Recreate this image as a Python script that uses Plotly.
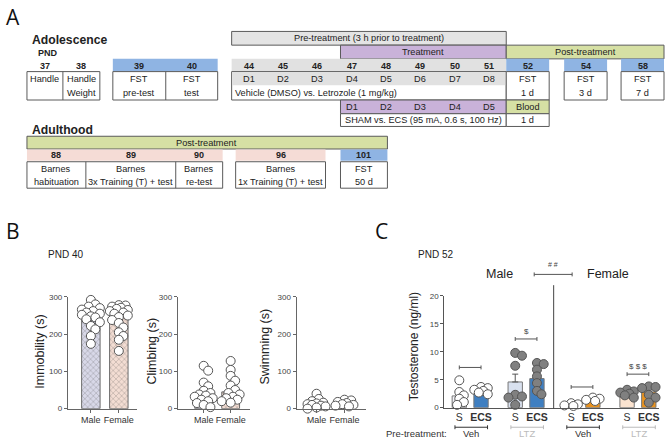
import numpy as np
import plotly.graph_objects as go

W, H = 666, 444
FONT = "Arial, 'Liberation Sans', sans-serif"
BIGF = "'Open Sans', 'Noto Sans', sans-serif"

def X(p): return p / W
def Y(p): return 1 - p / H

# ------------------------------------------------------------------ data
# Panel A (timeline)
pre_days = ["37", "38"]
pre_labels = [("Handle", ""), ("Handle", "Weight")]
fst_days = ["39", "40"]
fst_labels = [("FST", "pre-test"), ("FST", "test")]
drug_days = ["44", "45", "46", "47", "48", "49", "50", "51"]
drug_day_labels = ["D1", "D2", "D3", "D4", "D5", "D6", "D7", "D8"]
drug_text = "Vehicle (DMSO) vs. Letrozole (1 mg/kg)"
ecs_day_labels = ["D1", "D2", "D3", "D4", "D5"]
ecs_text = "SHAM vs. ECS (95 mA, 0.6 s, 100 Hz)"
post_days = ["52", "54", "58"]
post_labels = [("FST", "1 d"), ("FST", "3 d"), ("FST", "7 d")]
blood_label = ("Blood", "1 d")
adult_days = ["88", "89", "90"]
adult_labels = [("Barnes", "habituation"), ("Barnes", "3x Training (T) + test"), ("Barnes", "re-test")]
adult_day96 = "96"
adult_label96 = ("Barnes", "1x Training (T) + test")
adult_day101 = "101"
adult_label101 = ("FST", "50 d")

# Panel B (PND 40)
sexes = ["Male", "Female"]
immob_mean = [251, 244]
climb_mean = [36, 45]
swim_mean = [12, 11]
immob_male = [292, 280, 274, 270, 266, 262, 258, 255, 252, 248, 245, 240, 232, 222, 213, 195, 174]
immob_female = [278, 277, 274, 271, 268, 265, 262, 258, 255, 250, 246, 238, 230, 218, 205, 195, 185, 155]
climb_male = [115, 102, 70, 60, 48, 42, 38, 35, 32, 28, 24, 20, 15, 10, 4]
climb_female = [128, 104, 88, 75, 62, 50, 42, 38, 32, 28, 24, 20, 16]
swim_male = [40, 26, 20, 16, 14, 12, 10, 8, 6, 3, 0]
swim_female = [24, 22, 18, 15, 12, 10, 8, 6]

# Panel C (PND 52)
c_cond = ["S", "ECS", "S", "ECS", "S", "ECS", "S", "ECS"]
c_pre = ["Veh", "LTZ", "Veh", "LTZ"]
c_mean = [2.1, 2.8, 4.6, 5.2, 0.6, 1.1, 2.9, 2.8]
c_sem = [0.6, 0.25, 1.4, 0.8, 0.12, 0.15, 0.25, 0.45]
c_points = [
    [4.9, 2.8, 2.2, 1.6, 1.0, 0.5],
    [3.7, 3.5, 3.2, 3.0, 2.7, 2.4],
    [9.8, 9.3, 7.5, 2.3, 2.0, 1.8, 0.5],
    [8.0, 7.8, 6.8, 5.6, 4.4, 3.0, 2.4],
    [0.8, 0.6, 0.4, 0.3],
    [1.8, 1.6, 1.4, 1.2],
    [3.2, 2.9, 2.7, 2.5, 2.2, 1.8],
    [3.8, 3.7, 3.5, 2.3, 1.8, 0.9],
]

# ------------------------------------------------------------------ helpers
shapes, annots = [], []
BORDER = "#5a5a5a"

def rect(x0, y0, x1, y1, fill="white", line=BORDER, lw=1):
    shapes.append(dict(type="rect", xref="paper", yref="paper",
                       x0=X(x0), x1=X(x1), y0=Y(y1), y1=Y(y0),
                       fillcolor=fill, line=dict(color=line, width=lw), layer="above"))

def line(x0, y0, x1, y1, color=BORDER, lw=1, xref="paper"):
    if xref == "paper":
        x0, x1 = X(x0), X(x1)
    shapes.append(dict(type="line", xref=xref, yref="paper", x0=x0, x1=x1,
                       y0=Y(y0), y1=Y(y1), line=dict(color=color, width=lw), layer="above"))

def txt(x, y, s, size=9, bold=False, color="#222", xanchor="center", angle=0, family=FONT, xref="paper"):
    if bold:
        s = "<b>" + s + "</b>"
    annots.append(dict(x=X(x) if xref == "paper" else x, y=Y(y), xref=xref, yref="paper", text=s,
                       showarrow=False, xanchor=xanchor, yanchor="middle", textangle=angle,
                       font=dict(size=size, color=color, family=family)))

BLUE_H = "#8fb4e3"
PINK_H = "#f5dcd6"
GRAY_H = "#e1e1e1"
PURPLE = "#c9b2d9"
GREEN = "#d6e0a4"
FS = 9.2

# ------------------------------------------------------------------ Panel A
txt(13, 13, "A", size=21, family=BIGF, color="#111")
txt(30, 37, "Adolescence", size=12.2, bold=True, xanchor="left")
txt(36, 50, "PND", size=9, bold=True, xanchor="left")

pre_edges = [27, 63, 100]
rect(27, 69, 100, 98)
line(63, 69, 63, 98)
for i, d in enumerate(pre_days):
    cx = (pre_edges[i] + pre_edges[i + 1]) / 2
    txt(cx, 63, d, size=9, bold=True)
    txt(cx, 76.5, pre_labels[i][0], size=FS)
    txt(cx, 90.5, pre_labels[i][1], size=FS)

fst_edges = [113, 166, 218]
rect(113, 56, 218, 69, fill=BLUE_H, line=BLUE_H, lw=0)
rect(113, 69, 218, 98)
line(166, 69, 166, 98)
for i, d in enumerate(fst_days):
    cx = (fst_edges[i] + fst_edges[i + 1]) / 2
    txt(cx, 63, d, size=9, bold=True)
    txt(cx, 76.5, fst_labels[i][0], size=FS)
    txt(cx, 90.5, fst_labels[i][1], size=FS)

rect(232, 28, 507, 42, fill="#e4e4e4")
txt(369.5, 35, "Pre-treatment (3 h prior to treatment)", size=FS)
rect(341, 42, 507, 56, fill=PURPLE)
txt(424, 49, "Treatment", size=FS)
rect(507, 42, 665, 56, fill=GREEN)
txt(586, 49, "Post-treatment", size=FS)

dx0, dx1 = 232, 507
cw = (dx1 - dx0) / len(drug_days)
rect(dx0, 56, dx1, 69, fill=GRAY_H, line=GRAY_H, lw=0)
rect(dx0, 69, dx1, 98)
rect(dx0 + 0.5, 69.5, dx1 - 0.5, 83, fill=GRAY_H, line=GRAY_H, lw=0)
for i, d in enumerate(drug_days):
    cx = dx0 + cw * (i + 0.5)
    txt(cx, 63, d, size=9, bold=True)
    txt(cx, 76.5, drug_day_labels[i], size=FS)
txt(233, 90.5, drug_text, size=FS, xanchor="left")

rect(341, 98, 507, 112, fill=PURPLE)
rect(341, 112, 507, 125)
for i, d in enumerate(ecs_day_labels):
    cx = dx0 + cw * (i + 3.5)
    txt(cx, 105, d, size=FS)
txt(424, 118.5, ecs_text, size=FS)

post_x = [(507, 550), (565, 608), (622, 665)]
for i, d in enumerate(post_days):
    a, b = post_x[i]
    rect(a, 56, b, 69, fill=BLUE_H, line=BLUE_H, lw=0)
    rect(a, 69, b, 98)
    txt((a + b) / 2, 63, d, size=9, bold=True)
    txt((a + b) / 2, 76.5, post_labels[i][0], size=FS)
    txt((a + b) / 2, 90.5, post_labels[i][1], size=FS)
rect(507, 98, 550, 112, fill=GREEN)
rect(507, 112, 550, 125)
txt(528.5, 105, blood_label[0], size=FS)
txt(528.5, 118.5, blood_label[1], size=FS)

txt(30, 129, "Adulthood", size=12.2, bold=True, xanchor="left")
rect(27, 135, 388, 148, fill=GREEN)
txt(207, 141.5, "Post-treatment", size=FS)
ad_edges = [27, 86, 176, 223]
rect(27, 148.5, 223, 160, fill=PINK_H, line=PINK_H, lw=0)
rect(27, 161, 223, 188)
for i, d in enumerate(adult_days):
    cx = (ad_edges[i] + ad_edges[i + 1]) / 2
    if i > 0:
        line(ad_edges[i], 161, ad_edges[i], 188)
    txt(cx, 154.5, d, size=9, bold=True)
    txt(cx, 168, adult_labels[i][0], size=FS)
    txt(cx, 181.5, adult_labels[i][1], size=FS)
rect(236, 148.5, 326, 160, fill=PINK_H, line=PINK_H, lw=0)
rect(236, 161, 326, 188)
txt(281, 154.5, adult_day96, size=9, bold=True)
txt(281, 168, adult_label96[0], size=FS)
txt(281, 181.5, adult_label96[1], size=FS)
rect(341, 148.5, 388, 160, fill=BLUE_H, line=BLUE_H, lw=0)
rect(341, 161, 388, 188)
txt(364.5, 154.5, adult_day101, size=9, bold=True)
txt(364.5, 168, adult_label101[0], size=FS)
txt(364.5, 181.5, adult_label101[1], size=FS)

# ------------------------------------------------------------------ swarm helper
def swarm(vals, px_x, px_y, d, overlap=0.5, step=0.25, maxoff=10):
    vals = np.asarray(vals, float)
    order = np.argsort(-vals)
    placed, offs = [], np.zeros(len(vals))
    for i in order:
        yv = vals[i] * px_y
        best, bestd = 0.0, -1
        for k in range(60):
            cand = ((k + 1) // 2) * (1 if k % 2 else -1) * d * step
            if abs(cand) > maxoff:
                break
            dmin = min([((cand - a) ** 2 + (yv - b) ** 2) ** 0.5 for a, b in placed] or [1e9])
            if dmin >= d * overlap:
                best = cand
                break
            if dmin > bestd:
                best, bestd = cand, dmin
        placed.append((best, yv))
        offs[i] = best / px_x
    return offs

fig = go.Figure()

# ------------------------------------------------------------------ Panel B
txt(13, 232, "B", size=21, family=BIGF, color="#111")
txt(46, 256, "PND 40", size=10, xanchor="left")

b_specs = [
    ("x", "y", immob_mean, immob_male, immob_female, (68, 137), (91, 119), "Immobility (s)", 40, 355),
    ("x2", "y2", climb_mean, climb_male, climb_female, (178, 250), (204, 231), "Climbing (s)", 152, 354),
    ("x3", "y3", swim_mean, swim_male, swim_female, (297, 367), (317, 345), "Swimming (s)", 265, 350),
]
BY0, BY1 = 413, 299
b_fill = ["#d8d8e8", "#f3ddd3"]
b_fg = ["#c8c8dc", "#e8cbbf"]
layout_axes = {}
for idx, (xa, ya, means, mvals, fvals, (ax0, ax1), (c0, c1), title, tx, ty) in enumerate(b_specs):
    unit = c1 - c0
    fig.add_trace(go.Bar(x=[0, 1], y=means, width=0.66, xaxis=xa, yaxis=ya,
                         marker=dict(color=b_fill, line=dict(color="#6b6b6b", width=1),
                                     pattern=dict(shape="x", fgcolor=b_fg, size=4, solidity=0.2)),
                         hoverinfo="skip"))
    px_y = (BY0 - BY1) / 300
    for gi, vals in enumerate([mvals, fvals]):
        offs = swarm(vals, unit, px_y, 9, overlap=0.62, maxoff=10)
        fig.add_trace(go.Scatter(x=gi + offs, y=vals, mode="markers", xaxis=xa, yaxis=ya,
                                 cliponaxis=False,
                                 marker=dict(size=9, color="white", line=dict(color="#555", width=1))))
    sfx = "" if idx == 0 else str(idx + 1)
    layout_axes["xaxis" + sfx] = dict(domain=[X(ax0), X(ax1)], range=[(ax0 - c0) / unit, (ax1 - c0) / unit],
                                      anchor=ya, showline=True, linecolor="#666", linewidth=1,
                                      showgrid=False, zeroline=False, tickvals=[0, 1], ticktext=sexes,
                                      ticks="outside", ticklen=3, tickcolor="#666", tickangle=0,
                                      tickfont=dict(size=9, color="#333", family=FONT))
    layout_axes["yaxis" + sfx] = dict(domain=[Y(BY0), Y(BY1)], range=[0, 300], anchor=xa,
                                      showline=True, linecolor="#666", linewidth=1, showgrid=False,
                                      zeroline=False, tickvals=[0, 100, 200, 300], ticks="outside",
                                      ticklen=3, tickcolor="#666",
                                      tickfont=dict(size=8, color="#444", family=FONT))
    txt(tx, ty, title, size=12.5, angle=-90, color="#222")

# ------------------------------------------------------------------ Panel C
txt(382, 232, "C", size=21, family=BIGF, color="#111")
txt(417, 256, "PND 52", size=10, xanchor="left")
txt(500, 276, "Male", size=12.5)
txt(609, 276, "Female", size=12.5)
txt(554, 266, "# #", size=7, color="#444")
line(535, 276, 573, 276, color="#555")
line(535, 274, 535, 278, color="#555")
line(573, 274, 573, 278, color="#555")
line(554.5, 287, 554.5, 413, color="#444")

GAP = 2.575
CX0, CX1, CUNIT, CC0 = 445, 660, 21.75, 460
CY0, CY1 = 412, 298
c_pos = [g * GAP + k for g in range(4) for k in range(2)]
c_fill = ["#f3f3f8", "#3f7fc1", "#d9e1ef", "#3f7fc1", "#fbf3ee", "#e8921f", "#fbe3cf", "#e8921f"]
c_dot = ["white", "white", "#808080", "#808080", "white", "white", "#808080", "#808080"]
fig.add_trace(go.Bar(x=c_pos, y=c_mean, width=0.66, xaxis="x4", yaxis="y4",
                     marker=dict(color=c_fill, line=dict(color="#777", width=1)),
                     error_y=dict(type="data", array=c_sem, arrayminus=[0] * 8, symmetric=False,
                                  color="#555", thickness=1, width=3),
                     hoverinfo="skip"))
for i, vals in enumerate(c_points):
    offs = swarm(vals, CUNIT, (CY0 - CY1) / 20, 9, overlap=0.6, maxoff=8)
    fig.add_trace(go.Scatter(x=c_pos[i] + offs, y=vals, mode="markers", xaxis="x4", yaxis="y4",
                             cliponaxis=False,
                             marker=dict(size=9, color=c_dot[i], line=dict(color="#555", width=1))))

layout_axes["xaxis4"] = dict(domain=[X(CX0), X(CX1)], range=[(CX0 - CC0) / CUNIT, (CX1 - CC0) / CUNIT],
                             anchor="y4", showline=True, linecolor="#555", linewidth=1, showgrid=False,
                             zeroline=False, tickvals=c_pos, tickangle=0,
                             ticktext=[c if c == "S" else "<b>" + c + "</b>" for c in c_cond],
                             ticks="", tickfont=dict(size=10.5, color="#333", family=FONT))
layout_axes["yaxis4"] = dict(domain=[Y(CY0), Y(CY1)], range=[0, 20], anchor="x4", showline=True,
                             linecolor="#555", linewidth=1, showgrid=False, zeroline=False,
                             tickvals=[0, 5, 10, 15, 20], ticks="outside", ticklen=3, tickcolor="#555",
                             tickfont=dict(size=8, color="#444", family=FONT))
txt(415, 350, "Testosterone (ng/ml)", size=12, angle=-90)

def ypx(v):
    return CY0 - v * (CY0 - CY1) / 20

brackets = [(0, 7.2, ""), (1, 12.3, "$"), (2, 3.7, ""), (3, 6.0, "$ $ $")]
for g, lvl, lab in brackets:
    a, b = g * GAP, g * GAP + 1.0
    yy = ypx(lvl)
    line(a, yy, b, yy, color="#555", xref="x4")
    line(a, yy - 2, a, yy + 2, color="#555", xref="x4")
    line(b, yy - 2, b, yy + 2, color="#555", xref="x4")
    if lab:
        txt(g * GAP + 0.5, yy - 8, lab, size=8, color="#444", xref="x4")

for g, name in enumerate(c_pre):
    col = "#333" if name == "Veh" else "#bbbbbb"
    a, b = g * GAP - 0.2, g * GAP + 1.3
    line(a, 432, b, 432, color=col, xref="x4")
    line(a, 430, a, 434, color=col, xref="x4")
    line(b, 430, b, 434, color=col, xref="x4")
    txt(g * GAP + 0.55, 438.5, name, size=9.5, color=col, xref="x4")
txt(450, 438.5, "Pre-treatment:", size=9.5, color="#333", xanchor="right")

fig.update_layout(width=W, height=H, margin=dict(l=0, r=0, t=0, b=0), autosize=False,
                  paper_bgcolor="white", plot_bgcolor="rgba(0,0,0,0)", showlegend=False,
                  barmode="overlay", shapes=shapes, annotations=annots,
                  font=dict(family=FONT), **layout_axes)
fig.write_html("out.html", config={"displayModeBar": False},
               post_script="document.body.style.margin='0';document.body.style.padding='0';"
                           "document.body.style.overflow='hidden';")
